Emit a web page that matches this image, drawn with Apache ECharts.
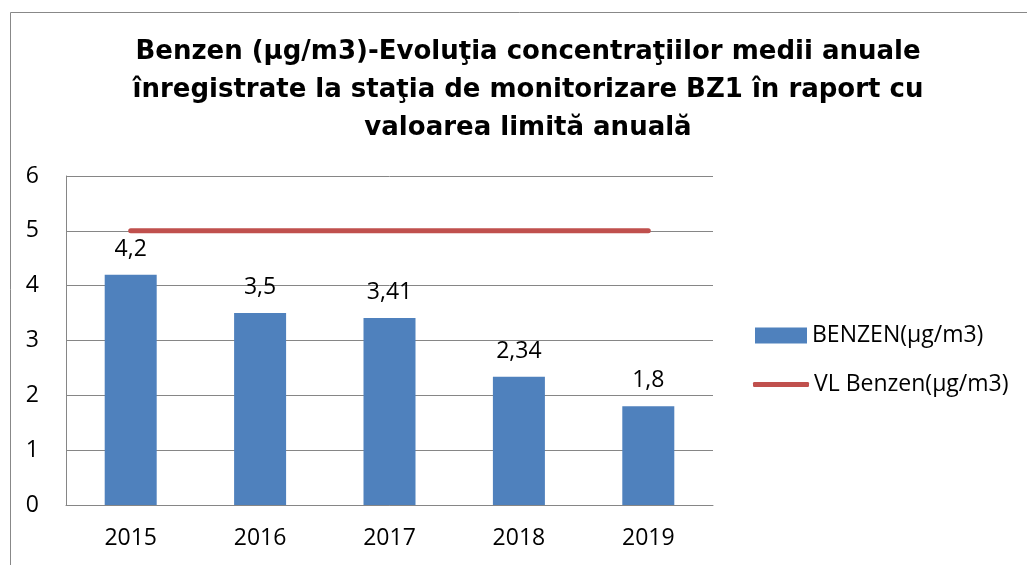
<!DOCTYPE html>
<html>
<head>
<meta charset="utf-8">
<script src="https://cdn.jsdelivr.net/npm/echarts@6/dist/echarts.min.js"></script>
<style>
  html, body { margin: 0; padding: 0; background: #fff; }
  #chart { width: 1027px; height: 565px; }
</style>
</head>
<body>
<div id="chart"></div>
<script>
// date
const years = ['2015', '2016', '2017', '2018', '2019'];
const benzen = [4.2, 3.5, 3.41, 2.34, 1.8];
const limita = [5, 5, 5, 5, 5];
const yTicks = [0, 1, 2, 3, 4, 5, 6];

const font = 'Open Sans, Liberation Sans, sans-serif';
const titleFont = 'DejaVu Sans, Liberation Sans, sans-serif';

let chart = echarts.init(document.getElementById('chart'));
chart.setOption({
  animation: false,
  title: {
    text: 'Benzen (µg/m3)-Evoluţia concentraţiilor medii anuale\nînregistrate la staţia de monitorizare BZ1 în raport cu\nvaloarea limită anuală',
    left: 523,
    top: 28,
    textAlign: 'center',
    textStyle: { fontFamily: titleFont, fontWeight: 'bold', fontSize: 26, lineHeight: 38, color: '#000' }
  },
  graphic: [{
    type: 'rect',
    shape: { x: 10.5, y: 12.5, width: 1100, height: 700 },
    style: { fill: 'none', stroke: '#888', lineWidth: 1 }
  }],
  legend: [{
    data: ['BENZEN(µg/m3)'],
    left: 750, top: 319,
    icon: 'rect', itemWidth: 52, itemHeight: 16, itemGap: 5,
    textStyle: { fontFamily: font, fontSize: 23, color: '#000' }
  }, {
    data: ['VL Benzen(µg/m3)'],
    left: 748, top: 368,
    icon: 'roundRect', itemWidth: 56, itemHeight: 5, itemGap: 3,
    textStyle: { fontFamily: font, fontSize: 23, color: '#000' }
  }],
  grid: { left: 66, right: 314, top: 176, bottom: 60 },
  xAxis: {
    type: 'category',
    data: years,
    axisLine: { lineStyle: { color: '#868686' } },
    axisTick: { show: false },
    axisLabel: { fontFamily: font, fontSize: 23, color: '#000', margin: 22 }
  },
  yAxis: {
    type: 'value',
    min: yTicks[0],
    max: yTicks[yTicks.length - 1],
    interval: 1,
    axisLine: { show: true, lineStyle: { color: '#868686' } },
    axisTick: { show: false },
    splitLine: { lineStyle: { color: '#868686', width: 1 } },
    axisLabel: { fontFamily: font, fontSize: 23, color: '#000', margin: 27 }
  },
  series: [{
    name: 'BENZEN(µg/m3)',
    type: 'bar',
    data: benzen,
    barWidth: 52,
    itemStyle: { color: '#4f81bd' },
    label: {
      show: true,
      position: 'top',
      distance: 14,
      fontFamily: font, fontSize: 23, color: '#000',
      formatter: p => String(p.value).replace('.', ',')
    }
  }, {
    name: 'VL Benzen(µg/m3)',
    type: 'line',
    data: limita,
    showSymbol: false,
    itemStyle: { color: '#c0504d' },
    lineStyle: { color: '#c0504d', width: 5, cap: 'round' }
  }]
});
</script>
</body>
</html>
